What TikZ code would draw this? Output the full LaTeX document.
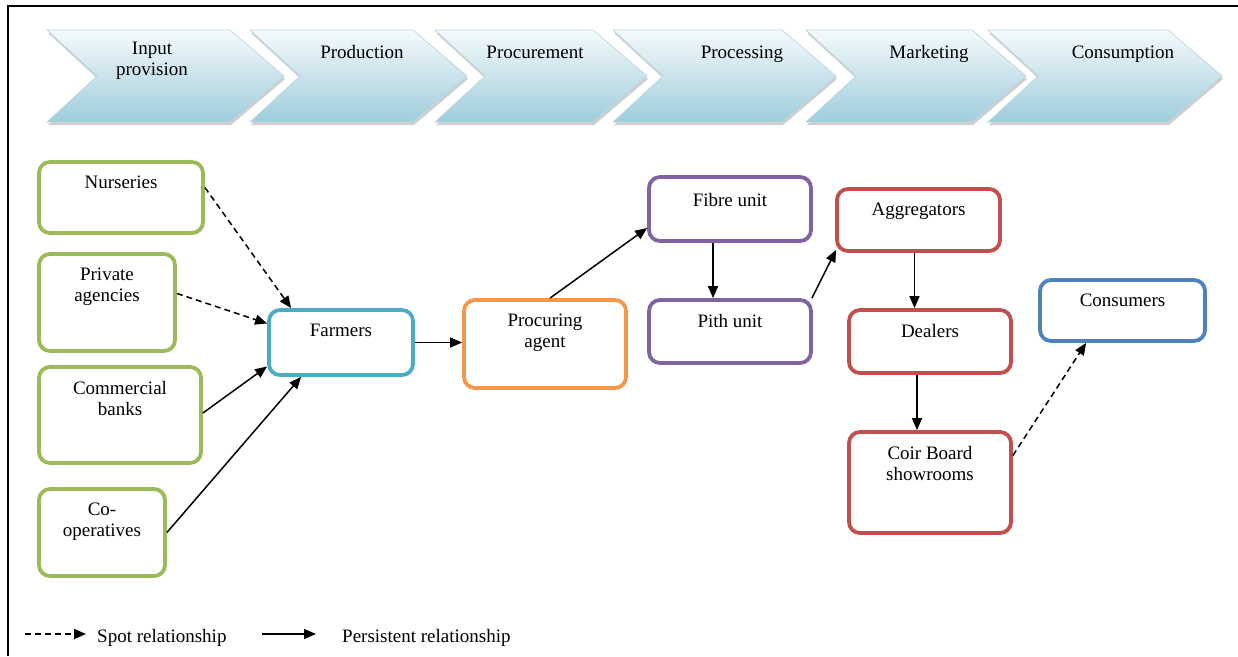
\documentclass[tikz,border=0pt]{standalone}
\usepackage{fontspec}
\setmainfont{Liberation Serif}
\usetikzlibrary{arrows.meta,shadows,calc}
\definecolor{cgreen}{HTML}{9BBB59}
\definecolor{cteal}{HTML}{4BACC6}
\definecolor{corange}{HTML}{F79646}
\definecolor{cpurple}{HTML}{8064A2}
\definecolor{cred}{HTML}{C0504D}
\definecolor{cblue}{HTML}{4F81BD}
\definecolor{chtop}{HTML}{F5FAFC}
\definecolor{chbot}{HTML}{9FCDDC}
\definecolor{chline}{HTML}{BCD6DF}
\begin{document}
\begin{tikzpicture}[x=1pt,y=-1pt,
  box/.style={draw=#1, line width=3.8pt, rounded corners=11pt, fill=white, inner sep=0pt},
  lbl/.style={font=\fontsize{19}{21}\selectfont, align=center, inner sep=0pt, anchor=north},
  chtext/.style={font=\fontsize{19}{21}\selectfont, align=center, inner sep=0pt},
  chev/.style={top color=chtop, bottom color=chbot, draw=chline, line width=0.7pt,
    drop shadow={shadow xshift=1pt, shadow yshift=-3pt, fill=gray!70, opacity=0.55}},
  persist/.style={line width=1.5pt, -{Triangle[length=12pt,width=10pt]}},
  spot/.style={persist, dash pattern=on 6pt off 4pt}
]
\useasboundingbox (0,0) rectangle (1238,656);
% frame
\draw[line width=2.6pt] (8,656) -- (8,6) -- (1238,6);

% chevrons
\foreach \L/\R in {47/230, 250/413, 435/593, 613/782, 806/972, 988/1168}{
  \path[chev] (\L,30) -- (\R,30) -- (\R+54,76) -- (\R,122) -- (\L,122) -- (\L+50,76) -- cycle;
}
\node[chtext, anchor=north] (c1) at (152,42) {Input\\provision};
\node[chtext, anchor=base] (c2) at (362,58) {Production};
\node[chtext, anchor=base] (c3) at (535,58) {Procurement};
\node[chtext, anchor=base] (c4) at (742,58) {Processing};
\node[chtext, anchor=base] (c5) at (929,58) {Marketing};
\node[chtext, anchor=base] (c6) at (1123,58) {Consumption};

% boxes
\node[box=cgreen, minimum width=164pt, minimum height=71pt] (nur) at (121,197.5) {};
\node[box=cgreen, minimum width=136pt, minimum height=97pt] (priv) at (107,302.5) {};
\node[box=cgreen, minimum width=162pt, minimum height=96pt] (comm) at (120,415) {};
\node[box=cgreen, minimum width=126pt, minimum height=87pt] (coop) at (102,532.5) {};
\node[box=cteal, minimum width=144pt, minimum height=65pt] (farm) at (341,342.5) {};
\node[box=corange, minimum width=162pt, minimum height=88pt] (proc) at (545,344) {};
\node[box=cpurple, minimum width=162pt, minimum height=64pt] (fibre) at (730,209) {};
\node[box=cpurple, minimum width=162pt, minimum height=63pt] (pith) at (730,331.5) {};
\node[box=cred, minimum width=163pt, minimum height=62pt] (agg) at (918.5,220) {};
\node[box=cred, minimum width=162pt, minimum height=63pt] (dea) at (930,341.5) {};
\node[box=cred, minimum width=162pt, minimum height=101pt] (coir) at (930,482.5) {};
\node[box=cblue, minimum width=165pt, minimum height=61pt] (cons) at (1122.5,310.5) {};

% labels
\node[lbl] (tnur) at ([yshift=-16pt]nur.north) {Nurseries};
\node[lbl] (tpriv) at ([yshift=-16pt]priv.north) {Private\\agencies};
\node[lbl] (tcomm) at ([yshift=-16pt]comm.north) {Commercial\\banks};
\node[lbl] (tcoop) at ([yshift=-16pt]coop.north) {Co-\\operatives};
\node[lbl] (tfarm) at ([yshift=-16pt]farm.north) {Farmers};
\node[lbl] (tproc) at ([yshift=-16pt]proc.north) {Procuring\\agent};
\node[lbl] (tfibre) at ([yshift=-18pt]fibre.north) {Fibre unit};
\node[lbl] (tpith) at ([yshift=-16pt]pith.north) {Pith unit};
\node[lbl] (tagg) at ([yshift=-16pt]agg.north) {Aggregators};
\node[lbl] (tdea) at ([yshift=-16pt]dea.north) {Dealers};
\node[lbl] (tcoir) at ([yshift=-16pt]coir.north) {Coir Board\\showrooms};
\node[lbl] (tcons) at ([yshift=-16pt]cons.north) {Consumers};

% connectors
\draw[spot] ([yshift=10pt]nur.east) -- ([xshift=24pt]farm.north west);
\draw[spot] ([yshift=9pt]priv.east) -- ([yshift=19pt]farm.west);
\draw[persist] ([yshift=2pt]comm.east) -- ([yshift=-24pt]farm.west);
\draw[persist] (coop.east) -- ([xshift=34pt]farm.south west);
\draw[persist] (farm.east) -- (proc.west |- farm.east);
\draw[persist] ([xshift=5pt]proc.north) -- ([yshift=-19pt]fibre.west);
\draw[persist] ([xshift=-17pt]fibre.south) -- ([xshift=-17pt]fibre.south |- pith.north);
\draw[persist] ([xshift=-1pt]pith.north east) -- ([xshift=1pt,yshift=3pt]agg.south west);
\draw[persist] ([xshift=-4pt]agg.south) -- ([xshift=-4pt]agg.south |- dea.north);
\draw[persist] ([xshift=-13pt]dea.south) -- ([xshift=-13pt]dea.south |- coir.north);
\draw[spot] ([yshift=27pt]coir.east) -- ([xshift=48pt]cons.south west);

% legend
\coordinate (s1) at (25,634);
\coordinate (s2) at (86,634);
\coordinate (p1) at (262,634);
\coordinate (p2) at (316,634);
\draw[spot] (s1) -- (s2);
\draw[persist] (p1) -- (p2);
\node[chtext, anchor=west] (ls) at (97,638) {Spot relationship};
\node[chtext, anchor=west] (lp) at (342,638) {Persistent relationship};
\end{tikzpicture}
\end{document}
